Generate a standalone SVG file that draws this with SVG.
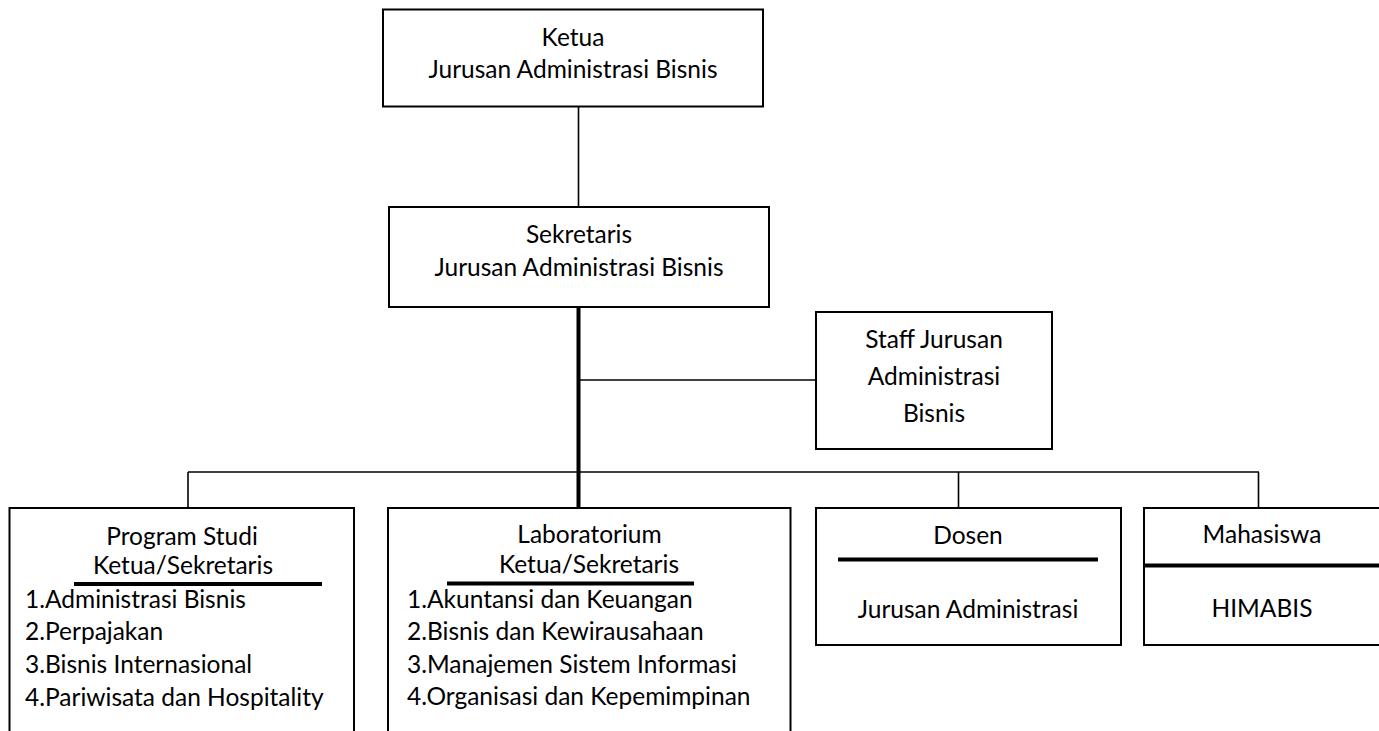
<svg xmlns="http://www.w3.org/2000/svg" width="1379" height="731" viewBox="0 0 1379 731">
<style>
.box{fill:#fff;stroke:#000;stroke-width:2}
.ln{stroke:#000;stroke-width:1.6;fill:none}
.thick{stroke:#000;stroke-width:4;fill:none}
text{font-family:Lato,"Open Sans","Liberation Sans",sans-serif;font-size:24.5px;fill:#000}
.c{text-anchor:middle}
</style>
<rect width="1379" height="731" fill="#fff"/>
<g id="connectors">
<line class="ln" x1="578.5" y1="107" x2="578.5" y2="207"/>
<line class="thick" x1="578.5" y1="307" x2="578.5" y2="508"/>
<line class="ln" x1="578.5" y1="380" x2="816" y2="380"/>
<line class="ln" x1="188" y1="472" x2="1259" y2="472"/>
<line class="ln" x1="188" y1="472" x2="188" y2="508"/>
<line class="ln" x1="958.5" y1="472" x2="958.5" y2="508"/>
<line class="ln" x1="1258.5" y1="472" x2="1258.5" y2="508"/>
</g>
<g id="ketua">
<rect class="box" x="383" y="9.5" width="380" height="97"/>
<text class="c" x="573" y="46">Ketua</text>
<text class="c" x="573" y="78">Jurusan Administrasi Bisnis</text>
</g>
<g id="sekretaris">
<rect class="box" x="389" y="207" width="380" height="100"/>
<text class="c" x="579" y="243">Sekretaris</text>
<text class="c" x="579" y="276">Jurusan Administrasi Bisnis</text>
</g>
<g id="staff">
<rect class="box" x="816" y="312" width="236" height="137"/>
<text class="c" x="934" y="348">Staff Jurusan</text>
<text class="c" x="934" y="385">Administrasi</text>
<text class="c" x="934" y="422">Bisnis</text>
</g>
<g id="prodi">
<rect class="box" x="9.5" y="508" width="344.5" height="240"/>
<text class="c" x="182" y="545">Program Studi</text>
<text class="c" x="183" y="574">Ketua/Sekretaris</text>
<line class="thick" x1="74" y1="584" x2="322" y2="584"/>
<text x="25" y="608">1.Administrasi Bisnis</text>
<text x="25" y="640">2.Perpajakan</text>
<text x="25" y="673">3.Bisnis Internasional</text>
<text x="25" y="706">4.Pariwisata dan Hospitality</text>
</g>
<g id="lab">
<rect class="box" x="388" y="508" width="402.5" height="240"/>
<text class="c" x="589.5" y="543">Laboratorium</text>
<text class="c" x="589" y="573">Ketua/Sekretaris</text>
<line class="thick" x1="447" y1="583.5" x2="694" y2="583.5"/>
<text x="407" y="608">1.Akuntansi dan Keuangan</text>
<text x="407" y="640">2.Bisnis dan Kewirausahaan</text>
<text x="407" y="673">3.Manajemen Sistem Informasi</text>
<text x="407" y="705">4.Organisasi dan Kepemimpinan</text>
</g>
<g id="dosen">
<rect class="box" x="816" y="508" width="305" height="137"/>
<text class="c" x="968" y="544">Dosen</text>
<line class="thick" x1="838" y1="559.5" x2="1098" y2="559.5"/>
<text class="c" x="968" y="618">Jurusan Administrasi</text>
</g>
<g id="mahasiswa">
<rect class="box" x="1144" y="508" width="240" height="137"/>
<text class="c" x="1262" y="543">Mahasiswa</text>
<line class="thick" x1="1144" y1="565.5" x2="1381" y2="565.5"/>
<text class="c" x="1262" y="617">HIMABIS</text>
</g>
</svg>
